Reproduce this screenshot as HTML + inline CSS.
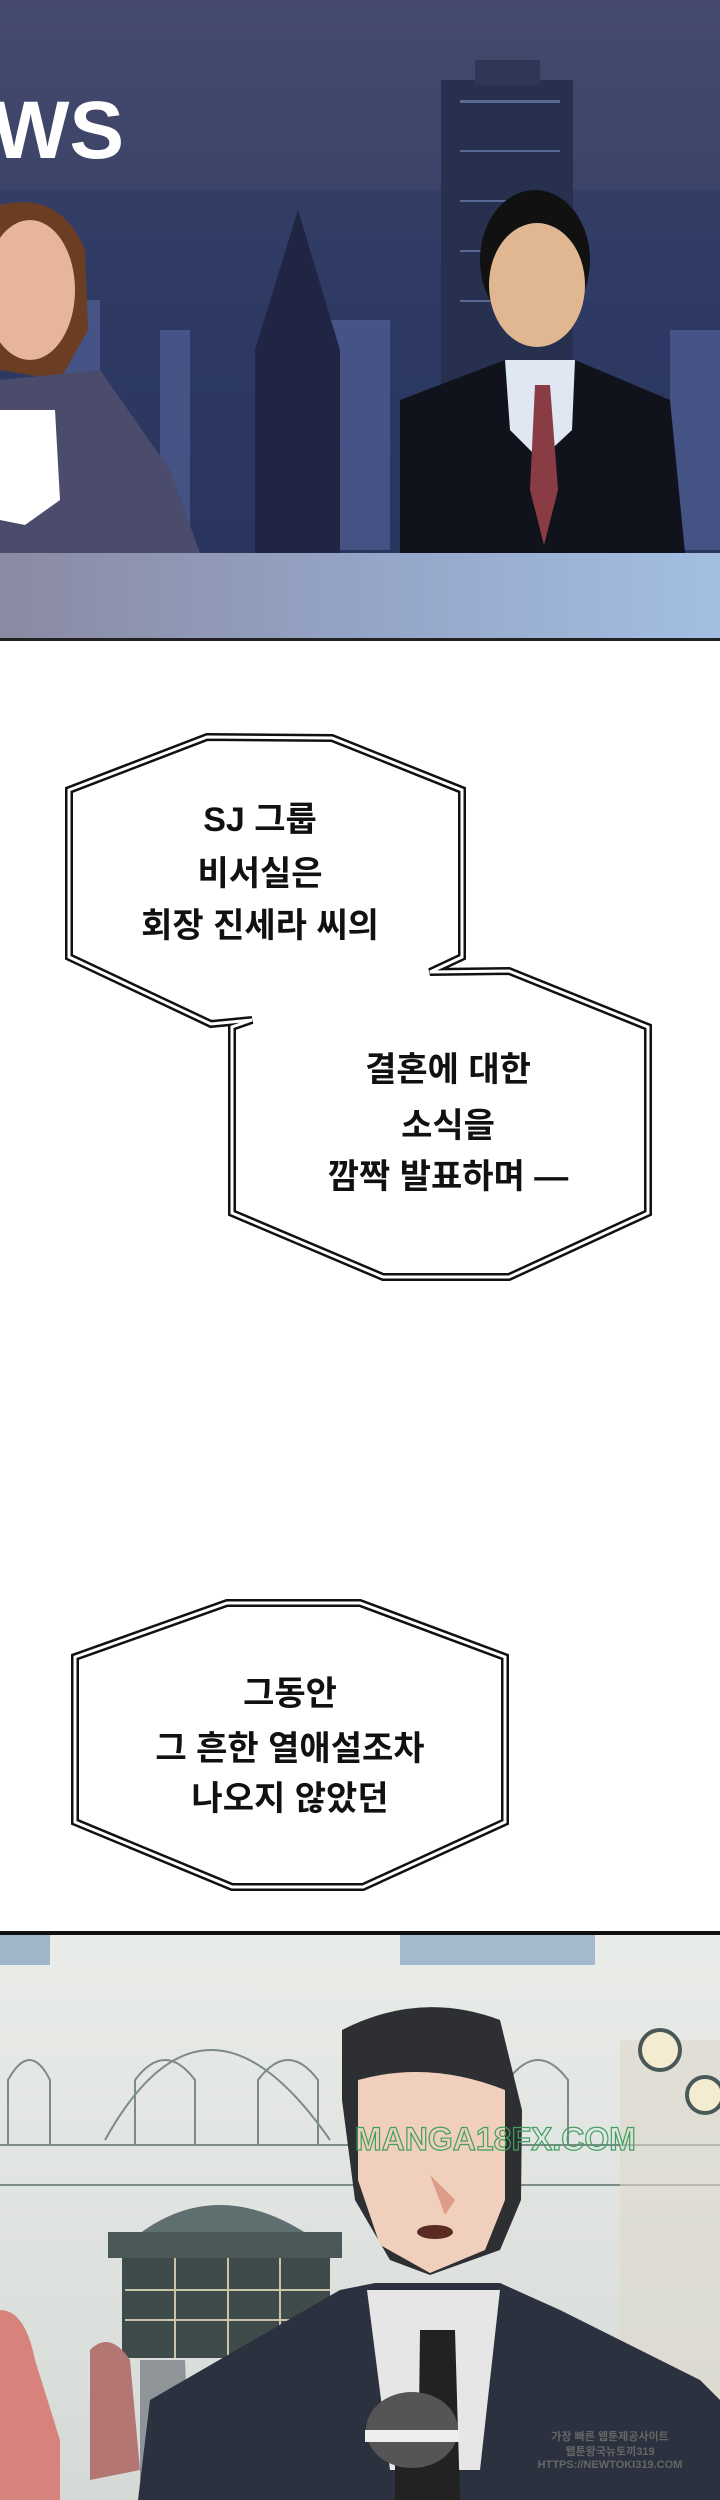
<!DOCTYPE html>
<html><head><meta charset="utf-8"><style>
html,body{margin:0;padding:0;background:#fff;width:720px;height:2500px;overflow:hidden;position:relative}
svg{position:absolute;left:0;top:0}
text{font-family:"Liberation Sans","Noto Sans CJK KR","NanumGothic",sans-serif;font-weight:bold}
</style></head><body>
<svg width="720" height="2500" viewBox="0 0 720 2500" xmlns="http://www.w3.org/2000/svg">
<defs>
<linearGradient id="sky" x1="0" y1="0" x2="0" y2="1">
<stop offset="0" stop-color="#454a6e"/><stop offset="0.35" stop-color="#3b4468"/><stop offset="0.6" stop-color="#2c3962"/><stop offset="1" stop-color="#253056"/>
</linearGradient>
<linearGradient id="desk" x1="0" y1="0" x2="1" y2="0">
<stop offset="0" stop-color="#8a8aa2"/><stop offset="0.5" stop-color="#94a4c6"/><stop offset="1" stop-color="#a3bfe2"/>
</linearGradient>
<linearGradient id="bg2" x1="0" y1="0" x2="0" y2="1">
<stop offset="0" stop-color="#e9ece8"/><stop offset="1" stop-color="#d6dad6"/>
</linearGradient>
</defs>
<rect x="0" y="0" width="720" height="553" fill="url(#sky)"/>
<rect x="0" y="190" width="720" height="363" fill="#2f3a66" opacity="0.6"/>
<g fill="#5e6ea8" opacity="0.5">
<rect x="60" y="300" width="40" height="250"/><rect x="160" y="330" width="30" height="220"/><rect x="330" y="320" width="60" height="230"/><rect x="670" y="330" width="50" height="220"/>
</g>
<polygon points="255,350 298,210 340,350 340,553 255,553" fill="#1f2543"/>
<rect x="441" y="80" width="132" height="473" fill="#27304f"/>
<rect x="475" y="60" width="65" height="25" fill="#2f3656"/>
<g fill="#8aa0d8" opacity="0.5"><rect x="460" y="100" width="100" height="3"/><rect x="460" y="150" width="100" height="2"/><rect x="460" y="200" width="100" height="2"/><rect x="460" y="250" width="100" height="2"/><rect x="460" y="300" width="100" height="2"/></g>
<text x="-8" y="158" font-size="82" fill="#ffffff">WS</text>
<path d="M0,205 Q60,190 85,250 L88,330 L60,380 L0,370Z" fill="#6b3d22"/>
<ellipse cx="30" cy="290" rx="45" ry="70" fill="#e6b59c"/>
<path d="M0,380 L100,370 L170,470 L200,553 L0,553Z" fill="#4b4b6b"/>
<path d="M0,410 L55,410 L60,500 L25,525 L0,520Z" fill="#ffffff"/>
<ellipse cx="535" cy="260" rx="55" ry="70" fill="#111"/>
<ellipse cx="537" cy="285" rx="48" ry="62" fill="#e1b792"/>
<path d="M400,400 L505,360 L575,360 L670,400 L685,553 L400,553Z" fill="#10131c"/>
<polygon points="505,360 575,360 572,430 540,460 510,430" fill="#dfe7f2"/>
<polygon points="535,385 550,385 558,490 544,545 530,490" fill="#8a3c45"/>
<rect x="0" y="553" width="720" height="87" fill="url(#desk)"/>
<rect x="0" y="638" width="720" height="3" fill="#222"/>
<g>
<polygon points="207,737 332,738 462,790 462,957 430,972 509,971 648,1027 648,1213 509,1277 383,1277 232,1213 232,1027 252,1020 211,1024 69,957 69,790" fill="#fff"/>
<polygon points="207,737 332,738 462,790 462,957 430,972 509,971 648,1027 648,1213 509,1277 383,1277 232,1213 232,1027 252,1020 211,1024 69,957 69,790" fill="none" stroke="#111" stroke-width="8"/>
<polygon points="207,737 332,738 462,790 462,957 430,972 509,971 648,1027 648,1213 509,1277 383,1277 232,1213 232,1027 252,1020 211,1024 69,957 69,790" fill="none" stroke="#fff" stroke-width="3"/>
</g>
<g font-size="34" fill="#111" text-anchor="middle">
<text x="260" y="831">SJ 그룹</text>
<text x="260" y="885">비서실은</text>
<text x="260" y="937">회장 진세라 씨의</text>
<text x="448" y="1081">결혼에 대한</text>
<text x="448" y="1137">소식을</text>
<text x="448" y="1188">깜짝 발표하며 —</text>
</g>
<g>
<polygon points="227,1603 360,1603 505,1657 505,1822 363,1887 232,1887 75,1822 75,1657" fill="#fff"/>
<polygon points="227,1603 360,1603 505,1657 505,1822 363,1887 232,1887 75,1822 75,1657" fill="none" stroke="#111" stroke-width="8"/>
<polygon points="227,1603 360,1603 505,1657 505,1822 363,1887 232,1887 75,1822 75,1657" fill="none" stroke="#fff" stroke-width="3"/>
</g>
<g font-size="34" fill="#111" text-anchor="middle">
<text x="290" y="1705">그동안</text>
<text x="290" y="1760">그 흔한 열애설조차</text>
<text x="290" y="1810">나오지 않았던</text>
</g>
<rect x="0" y="1931" width="720" height="4" fill="#111"/>
<rect x="0" y="1935" width="720" height="565" fill="url(#bg2)"/>
<rect x="0" y="1935" width="50" height="30" fill="#9fb5c8"/>
<rect x="400" y="1935" width="195" height="30" fill="#a4b9cc"/>
<g fill="none" stroke="#7d8a8a" stroke-width="2">
<path d="M105,2140 Q205,1960 330,2140"/><path d="M135,2145 L135,2080 Q165,2040 195,2080 L195,2145"/><path d="M258,2145 L258,2080 Q288,2040 318,2080 L318,2145"/><path d="M8,2145 L8,2080 Q30,2040 50,2080 L50,2145"/><path d="M508,2145 L508,2080 Q538,2040 568,2080 L568,2145"/>
<line x1="0" y1="2145" x2="720" y2="2145"/><line x1="0" y1="2185" x2="720" y2="2185"/>
</g>
<path d="M120,2250 Q215,2160 330,2250Z" fill="#5f6e6e"/>
<rect x="108" y="2232" width="234" height="26" fill="#4a5858"/>
<rect x="122" y="2258" width="208" height="100" fill="#3f4a4a"/>
<g stroke="#c9c3a8" stroke-width="2"><line x1="125" y1="2290" x2="330" y2="2290"/><line x1="125" y1="2320" x2="330" y2="2320"/><line x1="175" y1="2258" x2="175" y2="2358"/><line x1="228" y1="2258" x2="228" y2="2358"/><line x1="280" y1="2258" x2="280" y2="2358"/></g>
<rect x="620" y="2040" width="100" height="460" fill="#ddd8cc" opacity="0.6"/>
<circle cx="660" cy="2050" r="20" fill="#f4ecd0" stroke="#4a5858" stroke-width="4"/>
<circle cx="705" cy="2095" r="18" fill="#f4ecd0" stroke="#4a5858" stroke-width="4"/>
<path d="M0,2310 Q25,2310 35,2360 L60,2440 L60,2500 L0,2500Z" fill="#d7837c"/>
<path d="M90,2350 Q110,2330 130,2360 L140,2470 L90,2480Z" fill="#b47672"/>
<path d="M140,2360 L185,2360 L190,2480 L140,2480Z" fill="#8f9498"/>
<path d="M342,2030 Q420,1990 500,2020 L522,2110 L521,2200 L500,2250 L430,2275 L390,2260 L355,2200 L342,2100Z" fill="#2d2f32"/>
<path d="M358,2080 Q430,2060 505,2090 L505,2200 L485,2250 L430,2273 L380,2245 L358,2180Z" fill="#f1cfbd"/>
<path d="M430,2175 L455,2200 L445,2215Z" fill="#dc9c88"/>
<ellipse cx="435" cy="2232" rx="18" ry="7" fill="#5a2b25"/>
<path d="M138,2500 L150,2400 L340,2290 L375,2283 L500,2283 L560,2310 L700,2380 L720,2400 L720,2500Z" fill="#2b313f"/>
<polygon points="367,2290 500,2290 480,2470 390,2470" fill="#e6e6e6"/>
<polygon points="420,2330 455,2330 460,2500 418,2500" fill="#222"/>
<rect x="395" y="2440" width="42" height="60" fill="#222"/>
<ellipse cx="412" cy="2430" rx="46" ry="38" fill="#555"/>
<rect x="365" y="2430" width="94" height="12" fill="#eee"/>
<text x="355" y="2150" font-size="32" fill="none" stroke="#3fa060" stroke-width="1.2" font-weight="normal">MANGA18FX.COM</text>
<g font-size="11" fill="#666" text-anchor="middle"><text x="610" y="2440">가장 빠른 웹툰제공사이트</text><text x="610" y="2455">웹툰왕국뉴토끼319</text><text x="610" y="2468">HTTPS://NEWTOKI319.COM</text></g>
</svg>
</body></html>
